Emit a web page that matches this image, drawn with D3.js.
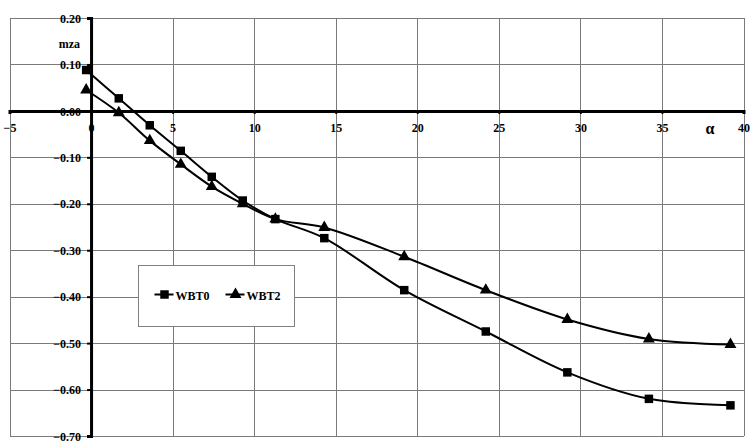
<!DOCTYPE html>
<meta charset="utf-8">
<style>
    body { margin: 0; background: #fff; }
    .grid line {
        stroke: #7a7a7a;
        stroke-width: 1px;
        shape-rendering: crispEdges;
    }
    .axis text, .lbl {
        font-family: "Liberation Serif", "Times New Roman", serif;
        font-size: 12px;
        font-weight: bold;
        fill: #000;
    }
    .series path.curve {
        fill: none;
        stroke: #000;
        stroke-width: 2px;
    }
</style>
<body>
<svg></svg>

<script src="https://d3js.org/d3.v7.min.js"></script>
<script type='text/javascript'>

    var alpha = [-0.3, 1.7, 3.6, 5.5, 7.4, 9.3, 11.3, 14.3, 19.2, 24.2, 29.2, 34.2, 39.2];
    var wbt0 = [0.088, 0.027, -0.031, -0.086, -0.142, -0.193, -0.233, -0.274, -0.386, -0.475, -0.563, -0.620, -0.634];
    var wbt2 = [0.045, -0.004, -0.064, -0.115, -0.163, -0.200, -0.233, -0.251, -0.314, -0.386, -0.449, -0.491, -0.503];
    var seriesNames = ['WBT0', 'WBT2'];
    var xTicks = [-5, 0, 5, 10, 15, 20, 25, 30, 35, 40];
    var yTicks = [0.2, 0.1, 0.0, -0.1, -0.2, -0.3, -0.4, -0.5, -0.6, -0.7];

    var width = 752,
        height = 446;

    var svg = d3.select('svg')
        .attr('width', width)
        .attr('height', height);

    var x = d3.scaleLinear().domain([-5, 40]).range([9.5, 743.5]);
    var y = d3.scaleLinear().domain([-0.7, 0.2]).range([436, 18]);

    // grid
    var grid = svg.append('g').attr('class', 'grid');
    grid.selectAll('.v')
        .data(xTicks)
        .enter().append('line')
        .attr('x1', function(d) { return Math.round(x(d)) + 0.5; })
        .attr('x2', function(d) { return Math.round(x(d)) + 0.5; })
        .attr('y1', y(0.2))
        .attr('y2', y(-0.7));
    grid.selectAll('.h')
        .data(yTicks)
        .enter().append('line')
        .attr('x1', x(-5))
        .attr('x2', x(40))
        .attr('y1', function(d) { return Math.round(y(d)) + 0.5; })
        .attr('y2', function(d) { return Math.round(y(d)) + 0.5; });

    // x axis at y = 0
    var xAxis = d3.axisBottom(x)
        .tickValues(xTicks)
        .tickSize(3)
        .tickPadding(10)
        .tickFormat(d3.format('d'));
    var gx = svg.append('g')
        .attr('class', 'x axis')
        .attr('transform', 'translate(0,' + y(0) + ')')
        .call(xAxis);
    gx.select('.domain').attr('stroke', '#000').attr('stroke-width', 3);
    gx.selectAll('.tick line').attr('stroke', '#000').attr('stroke-width', 2);

    // y axis at x = 0
    var yAxis = d3.axisLeft(y)
        .tickValues(yTicks)
        .tickSize(4)
        .tickPadding(6)
        .tickFormat(d3.format('.2f'));
    var gy = svg.append('g')
        .attr('class', 'y axis')
        .attr('transform', 'translate(' + x(0) + ',0)')
        .call(yAxis);
    gy.select('.domain').attr('stroke', '#000').attr('stroke-width', 3);
    gy.selectAll('.tick line').attr('stroke', '#000').attr('stroke-width', 2);
    gy.selectAll('.tick text').attr('dy', '0.35em');

    svg.append('text')
        .attr('class', 'lbl')
        .attr('x', x(0) - 11)
        .attr('y', 48)
        .attr('text-anchor', 'end')
        .text('mza');

    svg.append('text')
        .attr('class', 'lbl')
        .attr('x', 710)
        .attr('y', 134)
        .attr('text-anchor', 'middle')
        .style('font-size', '16px')
        .text('α');

    // series
    var line = d3.line()
        .x(function(d) { return x(d[0]); })
        .y(function(d) { return y(d[1]); })
        .curve(d3.curveCatmullRom.alpha(0.5));

    var squares = d3.symbol().type(d3.symbolSquare).size(72);
    var triangles = d3.symbol().type(d3.symbolTriangle).size(62);
    var shapes = [squares, triangles];

    var allSeries = [wbt0, wbt2].map(function(vals) {
        return alpha.map(function(a, i) { return [a, vals[i]]; });
    });

    var series = svg.selectAll('.series')
        .data(allSeries)
        .enter().append('g')
        .attr('class', 'series');

    series.append('path')
        .attr('class', 'curve')
        .attr('d', line);

    series.each(function(pts, si) {
        d3.select(this).selectAll('.mark')
            .data(pts)
            .enter().append('path')
            .attr('class', 'mark')
            .attr('transform', function(d) { return 'translate(' + x(d[0]) + ',' + y(d[1]) + ')'; })
            .attr('d', shapes[si])
            .attr('fill', '#000')
            .attr('stroke', 'none');
    });

    // legend
    var legend = svg.append('g')
        .attr('transform', 'translate(138.5,265.5)');
    legend.append('rect')
        .attr('width', 156)
        .attr('height', 61)
        .attr('fill', '#fff')
        .attr('stroke', '#808080')
        .attr('stroke-width', 1);

    var items = legend.selectAll('.item')
        .data(seriesNames)
        .enter().append('g')
        .attr('class', 'item')
        .attr('transform', function(d, i) { return 'translate(' + (16 + i * 71) + ',29)'; });
    items.append('line')
        .attr('x1', 0).attr('x2', 19)
        .attr('stroke', '#000').attr('stroke-width', 2);
    items.append('path')
        .attr('transform', 'translate(10,0)')
        .attr('d', function(d, i) { return shapes[i](); })
        .attr('fill', '#000');
    items.append('text')
        .attr('class', 'lbl')
        .attr('x', 21)
        .attr('y', 5)
        .text(function(d) { return d; });

</script>
